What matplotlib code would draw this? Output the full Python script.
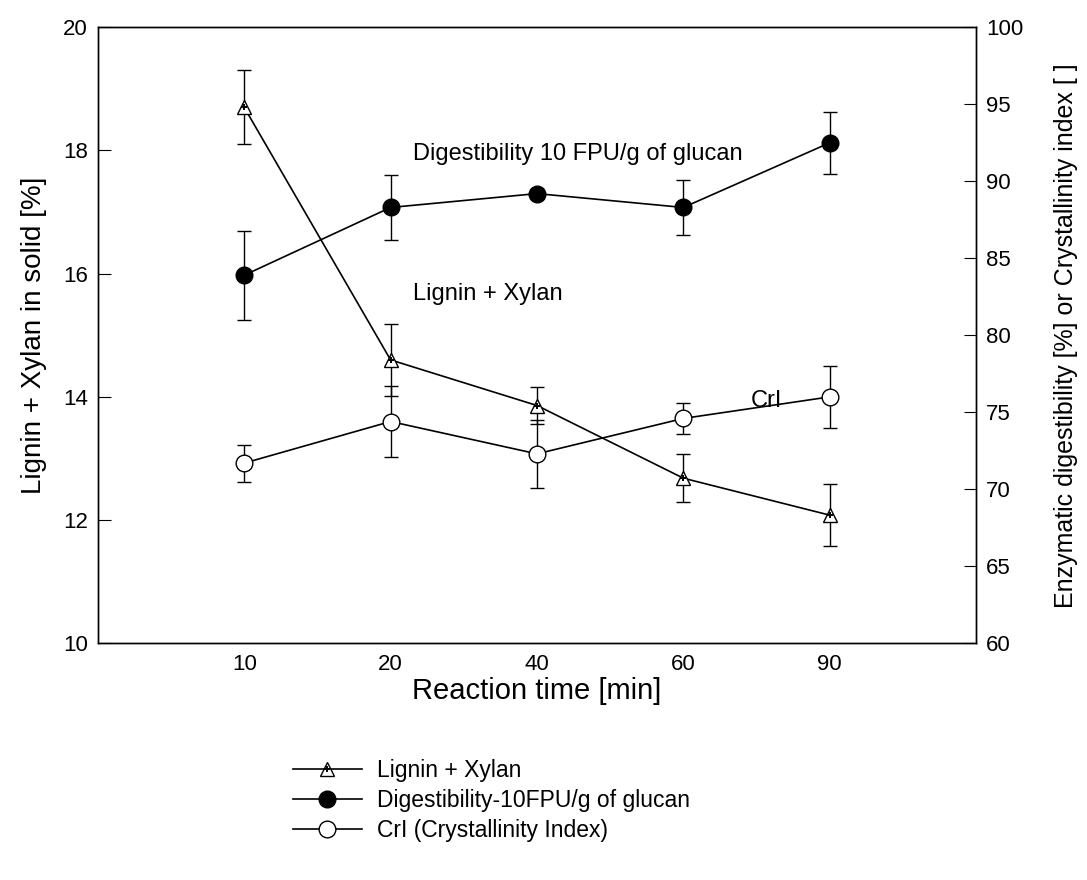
import matplotlib.pyplot as plt
from matplotlib.legend_handler import HandlerTuple

plt.rcParams['font.family'] = ['Liberation Sans', 'DejaVu Sans']

times = ['10', '20', '40', '60', '90']
lignin_xylan = [18.7, 14.6, 13.86, 12.68, 12.08]
lignin_err = [0.6, 0.58, 0.3, 0.39, 0.5]
digestibility = [83.9, 88.3, 89.2, 88.3, 92.5]
digest_err = [2.9, 2.1, 0.3, 1.8, 2.0]
cri = [71.7, 74.4, 72.3, 74.6, 76.0]
cri_err = [1.2, 2.3, 2.2, 1.0, 2.0]

x = list(range(1, len(times) + 1))

fig = plt.figure(figsize=(10.87, 8.8), dpi=100)
ax = fig.add_axes([0.090, 0.269, 0.808, 0.700])
ax2 = ax.twinx()

ax.set_zorder(2)
ax.patch.set_visible(False)

# left axis: lignin + xylan
ax.errorbar(x, lignin_xylan, yerr=lignin_err, color='black', lw=1.2, capsize=5,
            elinewidth=1, capthick=1, zorder=3, fmt='none')
l1, = ax.plot(x, lignin_xylan, color='black', lw=1.2, marker='^', ms=10,
              mfc='white', mec='black', mew=1, zorder=4)
l1p, = ax.plot(x, lignin_xylan, ls='none', marker='+', ms=5, mec='black',
               mew=1.4, zorder=5)

# right axis: digestibility and CrI
ax2.errorbar(x, digestibility, yerr=digest_err, fmt='none', ecolor='black',
             capsize=5, elinewidth=1, capthick=1)
l2, = ax2.plot(x, digestibility, color='black', lw=1.2, marker='o', ms=12,
               mfc='black', mec='black')
ax2.errorbar(x, cri, yerr=cri_err, fmt='none', ecolor='black',
             capsize=5, elinewidth=1, capthick=1)
l3, = ax2.plot(x, cri, color='black', lw=1.2, marker='o', ms=12,
               mfc='white', mec='black', mew=1)

ax.set_xlim(0, 6)
ax.set_xticks(x)
ax.set_xticklabels(times)
ax.set_ylim(10, 20)
ax.set_yticks([10, 12, 14, 16, 18, 20])
ax2.set_ylim(60, 100)
ax2.set_yticks(range(60, 101, 5))

ax.tick_params(axis='x', length=0, labelsize=16, pad=8)
ax.tick_params(axis='y', direction='in', length=9, labelsize=16, pad=7)
ax2.tick_params(axis='y', direction='in', length=9, labelsize=16, pad=7)

ax.set_xlabel('Reaction time [min]', fontsize=21, labelpad=1)
ax.set_ylabel('Lignin + Xylan in solid [%]', fontsize=20, labelpad=12)
ax2.set_ylabel('Enzymatic digestibility [%] or Crystallinity index [ ]',
               fontsize=18, labelpad=22)

for a in (ax, ax2):
    for s in a.spines.values():
        s.set_linewidth(1)

ax.text(2.15, 17.95, 'Digestibility 10 FPU/g of glucan', fontsize=17, va='center')
ax.text(2.15, 15.67, 'Lignin + Xylan', fontsize=17, va='center')
ax.text(4.46, 13.94, 'CrI', fontsize=17, va='center')

fig.legend([(l1, l1p), l2, l3],
           ['Lignin + Xylan', 'Digestibility-10FPU/g of glucan', 'CrI (Crystallinity Index)'],
           handler_map={tuple: HandlerTuple(ndivide=1)},
           loc='lower left', bbox_to_anchor=(0.261, 0.033), frameon=False,
           fontsize=16.5, handlelength=3.0, labelspacing=0.3, handletextpad=0.65,
           borderaxespad=0)

fig.savefig('out.png', dpi=100)
